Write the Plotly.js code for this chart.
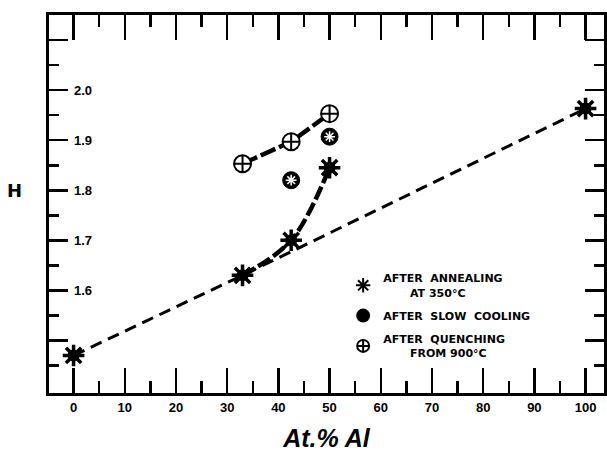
<!DOCTYPE html>
<html>
<head>
<meta charset="utf-8">
<script src="https://cdn.plot.ly/plotly-3.0.1.min.js"></script>
<style>html,body{margin:0;padding:0;background:#fff}</style>
</head>
<body>
<div id="chart" style="width:607px;height:460px"></div>
<script>
// Data
const annealX = [0, 33, 42.5, 50, 100];
const annealY = [1.47, 1.63, 1.70, 1.845, 1.963];
const baseX = [0, 33, 100];
const baseY = [1.47, 1.63, 1.963];
const curveX = [33, 42.5, 50];
const curveY = [1.63, 1.70, 1.845];
const slowX = [42.5, 50];
const slowY = [1.82, 1.907];
const quenchX = [33, 42.5, 50];
const quenchY = [1.853, 1.897, 1.953];
const xTicks = [0, 10, 20, 30, 40, 50, 60, 70, 80, 90, 100];
const xMinorTicks = [5, 15, 25, 35, 45, 55, 65, 75, 85, 95];
const yTicks = [1.5, 1.6, 1.7, 1.8, 1.9, 2.0, 2.1];
const yMinorTicks = [1.45, 1.55, 1.65, 1.75, 1.85, 1.95, 2.05];
const yTickText = ['', '1.6', '1.7', '1.8', '1.9', '2.0', ''];
const yTitle = 'H';
const yTitleAt = 1.8;
const legendNames = ['AFTER  ANNEALING<br>       AT 350°C', 'AFTER  SLOW  COOLING', 'AFTER  QUENCHING<br>       FROM 900°C'];

const traces = [
  {x: baseX, y: baseY, mode: 'lines', line: {color: '#000', width: 3, dash: '12px,7px'}, showlegend: false, hoverinfo: 'skip'},
  {x: curveX, y: curveY, mode: 'lines', line: {color: '#000', width: 4.5, shape: 'spline', dash: '14px,4px'}, showlegend: false, hoverinfo: 'skip'},
  {x: quenchX, y: quenchY, mode: 'lines', line: {color: '#000', width: 4.5, dash: '16px,4px'}, showlegend: false, hoverinfo: 'skip'},
  {x: annealX, y: annealY, mode: 'markers', marker: {symbol: 'circle', size: 12, color: '#000'}, showlegend: false, legendgroup: 'a'},
  {x: annealX, y: annealY, mode: 'markers', name: legendNames[0], legendgroup: 'a', marker: {symbol: 'asterisk-open', size: 18, color: '#000', line: {color: '#000', width: 3.5}}},
  {x: slowX, y: slowY, mode: 'markers', name: legendNames[1], legendgroup: 'b', marker: {symbol: 'circle', size: 17, color: '#000', line: {color: '#000', width: 1}}},
  {x: slowX, y: slowY, mode: 'markers', legendgroup: 'b', marker: {symbol: 'asterisk-open', size: 9, color: '#fff', line: {color: '#fff', width: 1.5}}, showlegend: false},
  {x: quenchX, y: quenchY, mode: 'markers', name: legendNames[2], legendgroup: 'c', marker: {symbol: 'circle-cross', size: 17, color: '#fff', line: {color: '#000', width: 2}}},
  // invisible trace so the minor-tick overlay axes are drawn
  {x: annealX, y: annealY, xaxis: 'x2', yaxis: 'y2', mode: 'markers', marker: {opacity: 0}, showlegend: false, hoverinfo: 'skip'}
];

const font = {family: 'Liberation Sans, Arial, sans-serif', color: '#000'};

const annotations = yTicks.map((v, i) => ({
  xref: 'paper', yref: 'y', x: 0.042, y: v, text: yTickText[i], showarrow: false,
  xanchor: 'left', yanchor: 'middle',
  font: {family: font.family, size: 13, weight: 'bold', color: '#000'}
})).filter(a => a.text !== '');
annotations.push({
  xref: 'paper', yref: 'y', x: -0.045, y: yTitleAt, text: yTitle, showarrow: false,
  xanchor: 'right', yanchor: 'middle',
  font: {family: 'DejaVu Sans, sans-serif', size: 18, weight: 'bold', color: '#000'}
});

const xRange = [-4.8, 103.6];
const yRange = [1.395, 2.15];

const layout = {
  width: 607, height: 460,
  margin: {l: 49, r: 3, t: 15, b: 67},
  paper_bgcolor: '#fff', plot_bgcolor: '#fff',
  font: font,
  xaxis: {
    range: xRange,
    tickmode: 'array', tickvals: xTicks,
    ticks: 'inside', ticklen: 25, tickwidth: 2.4, tickcolor: '#000',
    showline: true, linewidth: 3, linecolor: '#000', mirror: 'allticks',
    showgrid: false, zeroline: false,
    tickfont: {family: font.family, size: 13, weight: 'bold', color: '#000'},
    title: {text: 'At.% Al', standoff: 16, font: {family: font.family, size: 25, weight: 'bold', style: 'italic', color: '#000'}}
  },
  xaxis2: {
    overlaying: 'x', anchor: 'y', side: 'bottom',
    range: xRange,
    tickmode: 'array', tickvals: xMinorTicks, showticklabels: false,
    ticks: 'inside', ticklen: 12, tickwidth: 2.4, tickcolor: '#000',
    showline: false, mirror: 'allticks', showgrid: false, zeroline: false
  },
  yaxis: {
    range: yRange,
    tickmode: 'array', tickvals: yTicks, showticklabels: false,
    ticks: 'inside', ticklen: 19, tickwidth: 2.6, tickcolor: '#000',
    showline: true, linewidth: 3, linecolor: '#000', mirror: 'allticks',
    showgrid: false, zeroline: false
  },
  yaxis2: {
    overlaying: 'y', anchor: 'x', side: 'left',
    range: yRange,
    tickmode: 'array', tickvals: yMinorTicks, showticklabels: false,
    ticks: 'inside', ticklen: 10, tickwidth: 2.6, tickcolor: '#000',
    showline: false, mirror: 'allticks', showgrid: false, zeroline: false
  },
  annotations: annotations,
  legend: {
    x: 0.53, y: 0.34, xanchor: 'left', yanchor: 'top',
    bgcolor: 'rgba(0,0,0,0)', borderwidth: 0,
    font: {family: 'DejaVu Sans, sans-serif', size: 11, weight: 'bold', color: '#000'},
    itemsizing: 'constant', tracegroupgap: 5
  },
  showlegend: true
};

Plotly.newPlot('chart', traces, layout, {staticPlot: true, displayModeBar: false});
</script>
</body>
</html>
